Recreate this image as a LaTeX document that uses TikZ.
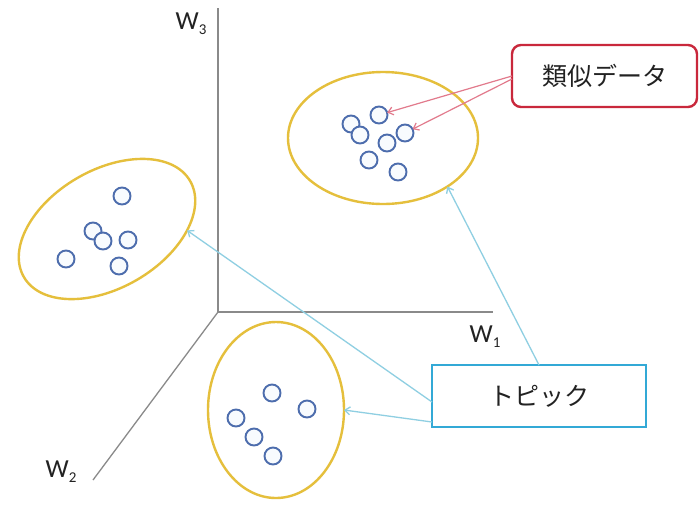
\documentclass[tikz,border=0pt]{standalone}
\usepackage{fontspec}
\setmainfont{Carlito}
\newfontfamily\jpfont{Noto Sans CJK JP}
\usetikzlibrary{shapes.geometric,arrows.meta}

\definecolor{clusterline}{HTML}{E5BF3C}
\definecolor{dotline}{HTML}{4D6DAD}
\definecolor{dotfill}{HTML}{F8FBFE}
\definecolor{topicline}{HTML}{33A9D6}
\definecolor{topicarrow}{HTML}{8FCFE2}
\definecolor{simline}{HTML}{C9283C}
\definecolor{simarrow}{HTML}{E27A8C}
\definecolor{axisgray}{HTML}{8A8A8A}
\definecolor{textdark}{HTML}{222222}

\newcommand{\axlabel}[2]{{\fontsize{26}{26}\selectfont #1\raisebox{-5pt}{\fontsize{15}{15}\selectfont #2}}}

\begin{document}
\begin{tikzpicture}[x=1pt,y=-1pt,
  cluster/.style={ellipse,draw=clusterline,line width=2.4pt,inner sep=0pt,outer sep=0pt},
  dot/.style={circle,draw=dotline,fill=dotfill,line width=1.9pt,minimum size=17pt,inner sep=0pt,outer sep=0pt},
  axisline/.style={draw=axisgray,line width=1.3pt},
  callout/.style={draw,line width=2.4pt,inner sep=0pt,outer sep=0pt,fill=white,
    font=\jpfont\fontsize{25}{25}\selectfont,text=textdark},
  topicptr/.style={draw=topicarrow,line width=1.3pt,-{Straight Barb[length=5pt,width=8pt]}},
  simptr/.style={draw=simarrow,line width=1.2pt,-{Straight Barb[length=5pt,width=8pt]}},
  axlbl/.style={text=textdark,inner sep=0pt}]

\useasboundingbox (0,0) rectangle (700,507);
\fill[white] (0,0) rectangle (700,507);

% axes
\coordinate (o) at (218,312);
\coordinate (w1end) at (493,312);
\coordinate (w3end) at (218,8);
\coordinate (w2end) at (93,480);
\draw[axisline] (w3end) -- (o) -- (w1end);
\draw[axisline] (o) -- (w2end);
\node[axlbl] (w3) at (191,24) {\axlabel{W}{3}};
\node[axlbl] (w1) at (485,337) {\axlabel{W}{1}};
\node[axlbl] (w2) at (61,472) {\axlabel{W}{2}};

% clusters
\node[cluster,minimum width=190pt,minimum height=132pt] (tr) at (383,138) {};
\node[cluster,minimum width=192pt,minimum height=118pt,rotate=30] (le) at (107,229) {};
\node[cluster,minimum width=136pt,minimum height=176pt] (bo) at (276,410) {};

% data points, upper-right cluster
\node[dot] (a1) at (379,115) {};
\node[dot] (a2) at (351,124) {};
\node[dot] (a3) at (360,135) {};
\node[dot] (a4) at (387,143) {};
\node[dot] (a5) at (405,133) {};
\node[dot] (a6) at (369,160) {};
\node[dot] (a7) at (398,172) {};

% data points, left cluster
\node[dot] (b1) at (122,196) {};
\node[dot] (b2) at (93,231) {};
\node[dot] (b3) at (103,241) {};
\node[dot] (b4) at (128,240) {};
\node[dot] (b5) at (66,259) {};
\node[dot] (b6) at (119,266) {};

% data points, lower cluster
\node[dot] (c1) at (272,393) {};
\node[dot] (c2) at (307,409) {};
\node[dot] (c3) at (236,418) {};
\node[dot] (c4) at (254,437) {};
\node[dot] (c5) at (273,456) {};

% callouts
\node[callout,draw=simline,rounded corners=9pt,minimum width=185pt,minimum height=62pt] (sim) at (604.5,76) {類似データ};
\node[callout,draw=topicline,minimum width=214pt,minimum height=62pt] (topic) at (539,396) {トピック};

% pointers
\draw[simptr] (sim.west) -- (a1);
\draw[simptr] ([yshift=-3pt]sim.west) -- (a5);
\draw[topicptr] (topic.north) -- (tr.-37);
\draw[topicptr] ([yshift=-6pt]topic.west) -- (le.-31);
\draw[topicptr] ([yshift=-26pt]topic.west) -- (bo.east);

\end{tikzpicture}
\end{document}
